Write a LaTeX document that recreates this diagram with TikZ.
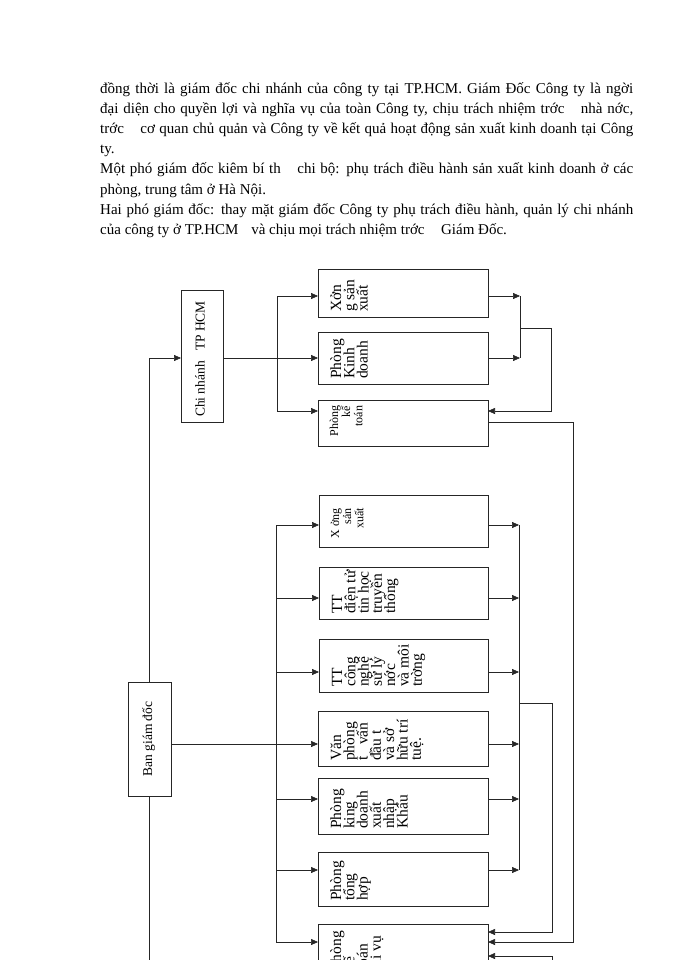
\documentclass[tikz,border=0pt]{standalone}
\usepackage{fontspec}
\setmainfont{Liberation Serif}
\usetikzlibrary{arrows.meta,calc}
\newcommand\bigtext[2]{%
  \foreach \t [count=\i from 0] in {#2}
    \node[bigt,anchor=base west] (#1-t\i) at ($(#1.south west)+(23+13.3*\i,-5)$) {\t};}
\newcommand\smalltext[3]{%
  \foreach \t [count=\i from 0] in {#3}
    \node[smallt,anchor=base east] (#1-t\i) at ($(#1.north west)+(20+12.2*\i,#2)$) {\t};}
\begin{document}
\begin{tikzpicture}[x=1pt,y=-1pt,
  box/.style={draw=black!85,line width=0.7pt,inner sep=0pt,outer sep=0pt,anchor=north west},
  ln/.style={draw=black!85,line width=0.65pt},
  arr/.style={ln,-{Triangle[length=7pt,width=6pt]}},
  body/.style={inner sep=0pt,anchor=base west,font=\fontsize{15}{18}\selectfont},
  bigt/.style={rotate=90,inner sep=0pt,font=\fontsize{15.5}{16}\selectfont},
  smallt/.style={rotate=90,inner sep=0pt,font=\fontsize{12}{13}\selectfont},
  lbl/.style={rotate=90,inner sep=0pt,font=\fontsize{13.5}{14}\selectfont}]
\useasboundingbox (0,0) rectangle (700,960);
\clip (0,0) rectangle (700,960);
\fill[white] (0,0) rectangle (700,960);

% body text
\node[body] (t1) at (100,94) {\makebox[533pt][s]{đồng thời là giám đốc chi nhánh của công ty tại TP.HCM. Giám Đốc Công ty là ngời}};
\node[body] (t2) at (100,114) {\makebox[533pt][s]{đại diện cho quyền lợi và nghĩa vụ của toàn Công ty, chịu trách nhiệm trớc\hspace{1.1em}nhà nớc,}};
\node[body] (t3) at (100,134) {\makebox[533pt][s]{trớc\hspace{1.1em}cơ quan chủ quản và Công ty về kết quả hoạt động sản xuất kinh doanh tại Công}};
\node[body] (t4) at (100,154) {ty.};
\node[body] (t5) at (100,174) {\makebox[533pt][s]{Một phó giám đốc kiêm bí th\hspace{1.1em}chi bộ: phụ trách điều hành sản xuất kinh doanh ở các}};
\node[body] (t6) at (100,194) {phòng, trung tâm ở Hà Nội.};
\node[body] (t7) at (100,214) {\makebox[533pt][s]{Hai phó giám đốc: thay mặt giám đốc Công ty phụ trách điều hành, quản lý chi nhánh}};
\node[body] (t8) at (100,234) {của công ty ở TP.HCM\hspace{0.6em} và chịu mọi trách nhiệm trớc\hspace{1.1em}Giám Đốc.};

% boxes
\node[box,minimum width=42pt,minimum height=132pt] (cn) at (181,290) {};
\node[box,minimum width=43pt,minimum height=114pt] (bgd) at (128,682) {};
\node[box,minimum width=170pt,minimum height=48pt] (x1) at (318,269) {};
\node[box,minimum width=170pt,minimum height=52pt] (kd) at (318,332) {};
\node[box,minimum width=170pt,minimum height=46pt] (kt) at (318,400) {};
\node[box,minimum width=169pt,minimum height=52pt] (x2) at (319,495) {};
\node[box,minimum width=169pt,minimum height=52pt] (ttdt) at (319,567) {};
\node[box,minimum width=169pt,minimum height=53pt] (ttcn) at (319,639) {};
\node[box,minimum width=170pt,minimum height=55pt] (vp) at (318,711) {};
\node[box,minimum width=170pt,minimum height=56pt] (xnk) at (318,778) {};
\node[box,minimum width=170pt,minimum height=54pt] (th) at (318,852) {};
\node[box,minimum width=170pt,minimum height=52pt] (kttv) at (318,924) {};

% box texts
\node[lbl,anchor=base] (cn-t) at ($(cn.center)+(2.5,3)$) {Chi nhánh\hspace{0.5em} TP HCM};
\node[lbl,anchor=base] (bgd-t) at ($(bgd.center)+(2.5,0)$) {Ban giám đốc};
\bigtext{x1}{Xởn,g sản,xuất}
\bigtext{kd}{Phòng,Kinh,doanh}
\smalltext{kt}{5.5}{Phòng,kế,toán}
\smalltext{x2}{13}{X\hspace{0.25em}ởng,sản,xuất}
\bigtext{ttdt}{TT,điện tử,tin học,truyền,thông}
\bigtext{ttcn}{TT,công,nghệ,sử lý,nớc,và môi,trờng}
\bigtext{vp}{Văn,phòng,t\hspace{0.5em} vấn,đầu t,và sở,hữu trí,tuệ.}
\bigtext{xnk}{Phòng,king,doanh,xuất,nhập,Khẩu}
\bigtext{th}{Phòng,tổng,hợp}
\bigtext{kttv}{Phòng,kế,toán,tài vụ}

% coordinates
\coordinate (y358) at (0,358);
\coordinate (ubT) at (277,296); \coordinate (ubB) at (277,411);
\coordinate (urT) at (520,296); \coordinate (urM) at (520,358);
\coordinate (urJ) at (520,328); \coordinate (urK) at (551,411);
\coordinate (rA) at (573,422); \coordinate (rAb) at (573,942);
\coordinate (lb1) at (276,525); \coordinate (lb2) at (276,598);
\coordinate (lb3) at (276,672); \coordinate (lb4) at (276,744);
\coordinate (lb5) at (276,799); \coordinate (lb6) at (276,870);
\coordinate (lb7) at (276,942);
\coordinate (rb1) at (519,525); \coordinate (rb2) at (519,598);
\coordinate (rb3) at (519,672); \coordinate (rb4) at (519,744);
\coordinate (rb5) at (519,799); \coordinate (rb6) at (519,870);
\coordinate (rbJ) at (519,703); \coordinate (rbK) at (552,932);
\coordinate (rbL) at (552,956); \coordinate (rbLb) at (552,970);
\coordinate (bgdbot) at (150,970);

% connectors
\draw[arr] (bgd.north) |- (cn.west |- y358);
\draw[ln] (bgd.south) -- (bgd.south |- bgdbot);
\draw[arr] (cn.east |- y358) -- (kd.west |- y358);
\draw[ln] (ubT) -- (ubB);
\draw[arr] (ubT) -- (ubT -| x1.west);
\draw[arr] (ubB) -- (ubB -| kt.west);
\draw[arr] (x1.east |- urT) -- (urT);
\draw[arr] (kd.east |- urM) -- (urM);
\draw[ln] (urT) -- (urM);
\draw[arr] (urJ) -| (urK) -- (urK -| kt.east);
\draw[arr] (kt.east |- rA) -- (rA) -- (rAb) -- (rAb -| kttv.east);
\draw[ln] (bgd.east |- lb4) -- (lb4);
\draw[ln] (lb1) -- (lb7);
\foreach \b [count=\i] in {x2,ttdt,ttcn,vp,xnk,th,kttv}
  \draw[arr] (lb\i) -- (lb\i -| \b.west);
\draw[ln] (rb1) -- (rb6);
\foreach \b [count=\i] in {x2,ttdt,ttcn,vp,xnk,th}
  \draw[arr] (\b.east |- rb\i) -- (rb\i);
\draw[arr] (rbJ) -| (rbK) -- (rbK -| kttv.east);
\draw[arr] (rbLb) -- (rbL) -- (rbL -| kttv.east);
\end{tikzpicture}
\end{document}
